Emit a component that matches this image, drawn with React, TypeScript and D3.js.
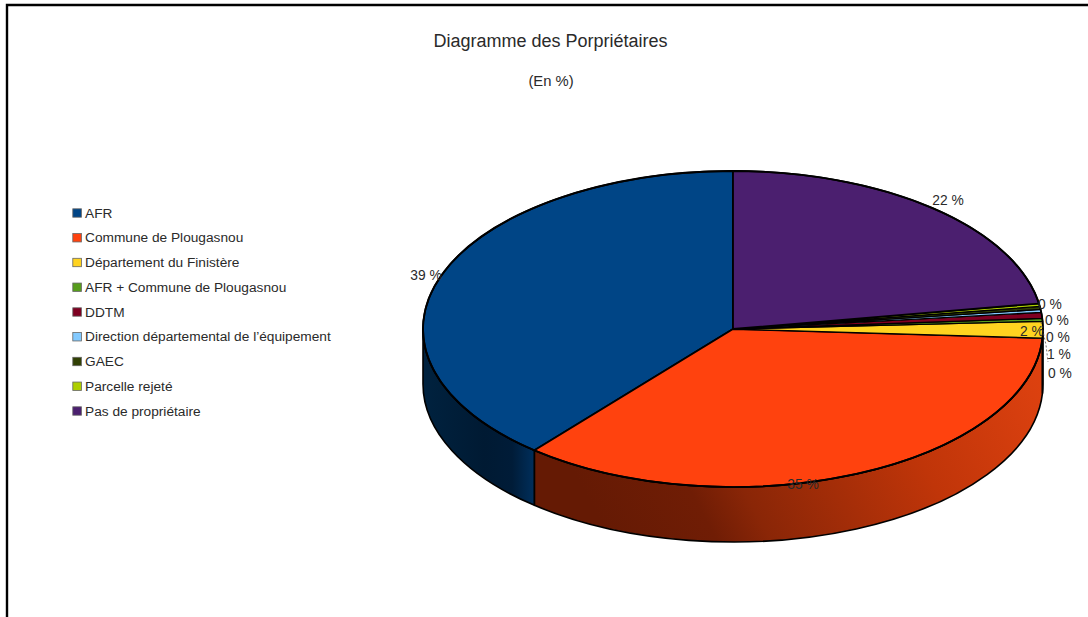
import React from 'react';
import * as d3 from 'd3';

const categories = ['AFR','Commune de Plougasnou','Département du Finistère','AFR + Commune de Plougasnou','DDTM','Direction départemental de l’équipement','GAEC','Parcelle rejeté','Pas de propriétaire'];
const shares = [38.9,35.1,1.7,0.3,0.6,0.3,0.3,0.3,22.4];
const colors = ['#004586','#ff420e','#ffd320','#579d1c','#7e0021','#83caff','#314004','#aecf00','#4b1f6f'];
const labels = ['39 %','35 %','2 %','0 %','1 %','0 %','0 %','0 %','22 %'];
const labelX = [426,803,1032,1060,1059,1058,1057,1050,948];
const labelY = [275,484,331,373,354,337,320,304,200];
const blueStops: [number,string][] = [[0,'#00223f'],[0.55,'#001a33'],[0.8,'#001c38'],[1,'#002f5c']];
const orangeStops: [number,string][] = [[0,'#651a04'],[0.2,'#701d05'],[0.3,'#8a2607'],[0.66,'#c03509'],[0.93,'#da400f'],[1,'#e0420f']];

const W = 1088, H = 617;
const cx = 733, cy = 329, rx = 310, ry = 158, depth = 55;
const pt = (a: number): [number, number] => [cx + rx * Math.sin(a), cy - ry * Math.cos(a)];

export default function App() {
  const pie = d3.pie<number>().sort(null).startAngle(0).endAngle(-2 * Math.PI);
  const arcs = pie(shares);
  const legendY = d3.scalePoint<string>().domain(categories).range([213, 411]);

  const topPath = (s: number, e: number) => {
    const [x0, y0] = pt(s), [x1, y1] = pt(e);
    const large = Math.abs(s - e) > Math.PI ? 1 : 0;
    return `M${cx},${cy}L${x0},${y0}A${rx},${ry} 0 ${large} 0 ${x1},${y1}Z`;
  };
  const sidePath = (s: number, e: number) => {
    const a0 = Math.min(s, -Math.PI / 2);
    const a1 = Math.max(e, -3 * Math.PI / 2);
    if (a0 <= a1) return null;
    const [x0, y0] = pt(a0), [x1, y1] = pt(a1);
    return `M${x0},${y0}A${rx},${ry} 0 0 0 ${x1},${y1}L${x1},${y1 + depth}A${rx},${ry} 0 0 1 ${x0},${y0 + depth}Z`;
  };
  const sideFill = (i: number) => (i === 0 ? 'url(#sideBlue)' : i === 1 ? 'url(#sideOrange)' : colors[i]);

  return (
    <svg width={W} height={H} style={{ position: 'absolute', left: 0, top: 0, background: '#fff', fontFamily: '"Liberation Sans", Arial, sans-serif' }}>
      <defs>
        <linearGradient id="sideBlue" x1="0" x2="1" y1="0" y2="0">
          {blueStops.map(([o, c], i) => <stop key={i} offset={o} stopColor={c} />)}
        </linearGradient>
        <linearGradient id="sideOrange" gradientUnits="userSpaceOnUse" x1={620} y1={560} x2={1040} y2={340}>
          {orangeStops.map(([o, c], i) => <stop key={i} offset={o} stopColor={c} />)}
        </linearGradient>
      </defs>
      <path d={`M7,${H}V5H${W}`} fill="none" stroke="#000" strokeWidth={2.4} />
      <text x={550.5} y={46.5} textAnchor="middle" fontSize={18} fill="#2a2a2a">Diagramme des Porpriétaires</text>
      <text x={551} y={86} textAnchor="middle" fontSize={14.8} fill="#2a2a2a">(En %)</text>

      {categories.map((c, i) => (
        <g key={c}>
          <rect x={72.8} y={legendY(c)! - 4.2} width={8.6} height={8.4} fill={colors[i]} stroke="#666" strokeWidth={0.8} />
          <text x={85} y={legendY(c)! + 4.6} fontSize={13.7} fill="#2a2a2a">{c}</text>
        </g>
      ))}

      {arcs.map((a, i) => {
        const d = sidePath(a.startAngle, a.endAngle);
        if (!d) return null;
        return <path key={i} d={d} fill={sideFill(i)} stroke="#000" strokeWidth={1.6} strokeLinejoin="round" />;
      })}
      {arcs.map((a, i) => (
        <path key={i} d={topPath(a.startAngle, a.endAngle)} fill={colors[i]} stroke="#000" strokeWidth={i === 0 || i === 1 || i === 8 ? 1.8 : 1.3} strokeLinejoin="round" />
      ))}
      <path d={`M${cx - rx},${cy}A${rx},${ry} 0 1 1 ${cx + rx},${cy}A${rx},${ry} 0 1 1 ${cx - rx},${cy}`} fill="none" stroke="#000" strokeWidth={1.8} />

      <path d="M1041,322L1046,345L1048,362" fill="none" stroke="#555" strokeWidth={0.8} strokeDasharray="2 2" />
      {labels.map((l, i) => (
        <text key={i} x={labelX[i]} y={labelY[i] + 5} textAnchor="middle" fontSize={13.8} fill="#2a2a2a">{l}</text>
      ))}
    </svg>
  );
}
